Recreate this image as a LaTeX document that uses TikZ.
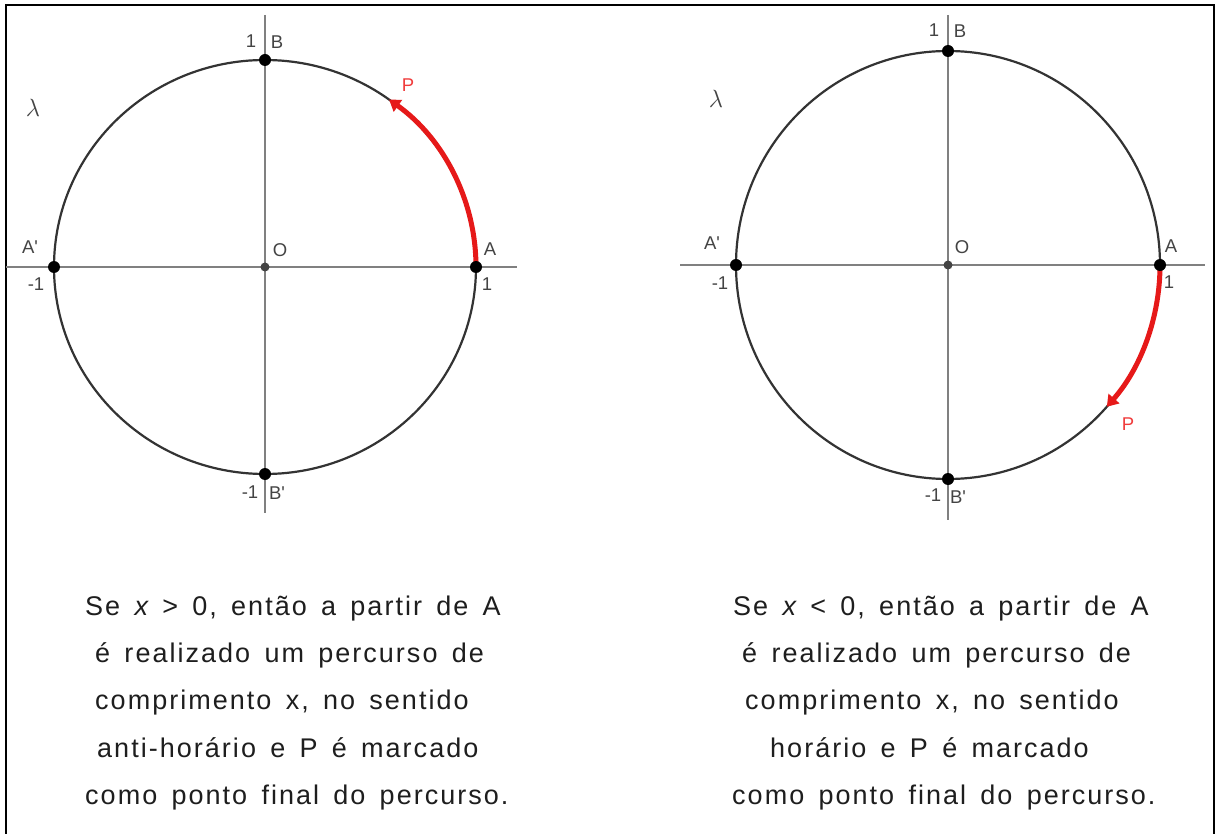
\documentclass[tikz,border=0pt]{standalone}
\usepackage{fontspec}
\setmainfont{Liberation Sans}
\newfontfamily\bodyfont{Liberation Sans}[LetterSpace=7.5,WordSpace=1.5]
\usetikzlibrary{arrows.meta}
\definecolor{circ}{HTML}{333333}
\definecolor{axis}{HTML}{808080}
\definecolor{lab}{HTML}{444444}
\definecolor{arcred}{HTML}{E61919}
\definecolor{pred}{HTML}{F03C3C}
\definecolor{body}{HTML}{1E1E1E}
\tikzset{
  dotpt/.style={circle,fill=black,inner sep=0pt,minimum size=12pt},
  origin/.style={circle,fill=lab,inner sep=0pt,minimum size=9pt},
  lbl/.style={text=lab,inner sep=0pt,font=\fontsize{18.5}{20}\selectfont},
  lam/.style={text=lab,inner sep=0pt,font=\fontsize{25}{27}\selectfont},
  plbl/.style={text=pred,inner sep=0pt,font=\fontsize{18.5}{20}\selectfont},
  axisline/.style={draw=axis,line width=1.5pt},
  circline/.style={draw=circ,line width=2.2pt},
  redarc/.style={draw=arcred,line width=5pt,-{Triangle[length=11pt,width=14pt]}},
  bodytxt/.style={text=body,inner sep=0pt,anchor=base west,font=\bodyfont\fontsize{27}{30}\selectfont}
}
\begin{document}
\begin{tikzpicture}[x=1pt,y=1pt]
\useasboundingbox (0,0) rectangle (1220,-834);
\fill[white] (0,0) rectangle (1220,-834);
% frame
\draw[line width=2.6pt,black] (6,-840) -- (6,-5) -- (1214,-5) -- (1214,-840);

% ---------- left diagram ----------
\coordinate (LHl) at (6,-267);
\coordinate (LHr) at (517,-267);
\coordinate (LVt) at (265,-15);
\coordinate (LVb) at (265,-513);
\draw[axisline] (LHl) -- (LHr);
\draw[axisline] (LVt) -- (LVb);
\coordinate (LO) at (265,-267);
\draw[circline] (LO) ellipse[x radius=211, y radius=207];
\draw[redarc] (476,-267) arc[start angle=0, end angle=54, x radius=211, y radius=207];
\node[dotpt] (LA) at (476,-267) {};
\node[dotpt] (LB) at (265,-60) {};
\node[dotpt] (LAp) at (54,-267) {};
\node[dotpt] (LBp) at (265,-474) {};
\node[origin] (LOd) at (LO) {};
\node[lbl] at (251,-41) {1};
\node[lbl] at (277,-42) {B};
\node[lam] at (33,-108) {$\lambda$};
\node[lbl] at (30,-247) {A\textquotesingle};
\node[lbl] at (36,-284) {-1};
\node[lbl] at (280,-250) {O};
\node[lbl] at (490,-249) {A};
\node[lbl] at (487,-284) {1};
\node[lbl] at (250,-492) {-1};
\node[lbl] at (277,-493) {B\textquotesingle};
\node[plbl] at (408,-85) {P};

% ---------- right diagram ----------
\coordinate (RHl) at (680,-265);
\coordinate (RHr) at (1205,-265);
\coordinate (RVt) at (948,-15);
\coordinate (RVb) at (948,-520);
\draw[axisline] (RHl) -- (RHr);
\draw[axisline] (RVt) -- (RVb);
\coordinate (RO) at (948,-265);
\draw[circline] (RO) ellipse[x radius=212, y radius=214];
\draw[redarc] (1160,-265) arc[start angle=0, end angle=-41.5, x radius=212, y radius=214];
\node[dotpt] (RA) at (1160,-265) {};
\node[dotpt] (RB) at (948,-51) {};
\node[dotpt] (RAp) at (736,-265) {};
\node[dotpt] (RBp) at (948,-479) {};
\node[origin] (ROd) at (RO) {};
\node[lbl] at (934,-30) {1};
\node[lbl] at (960,-31) {B};
\node[lam] at (716,-99) {$\lambda$};
\node[lbl] at (712,-243) {A\textquotesingle};
\node[lbl] at (720,-283) {-1};
\node[lbl] at (962,-247) {O};
\node[lbl] at (1171,-246) {A};
\node[lbl] at (1169,-282) {1};
\node[lbl] at (933,-495) {-1};
\node[lbl] at (958,-497) {B\textquotesingle};
\node[plbl] at (1128,-424) {P};

% ---------- texts ----------
\node[bodytxt] (t1) at (85,-615) {Se {\itshape x} > 0, então a partir de A};
\node[bodytxt] (t2) at (95,-662) {é realizado um percurso de};
\node[bodytxt] (t3) at (95,-709) {comprimento x, no sentido};
\node[bodytxt] (t4) at (97,-757) {anti-horário e P é marcado};
\node[bodytxt] (t5) at (85,-804) {como ponto final do percurso.};

\node[bodytxt] (u1) at (733,-615) {Se {\itshape x} < 0, então a partir de A};
\node[bodytxt] (u2) at (742,-662) {é realizado um percurso de};
\node[bodytxt] (u3) at (745,-709) {comprimento x, no sentido};
\node[bodytxt] (u4) at (770,-757) {horário e P é marcado};
\node[bodytxt] (u5) at (732,-804) {como ponto final do percurso.};
\end{tikzpicture}
\end{document}
